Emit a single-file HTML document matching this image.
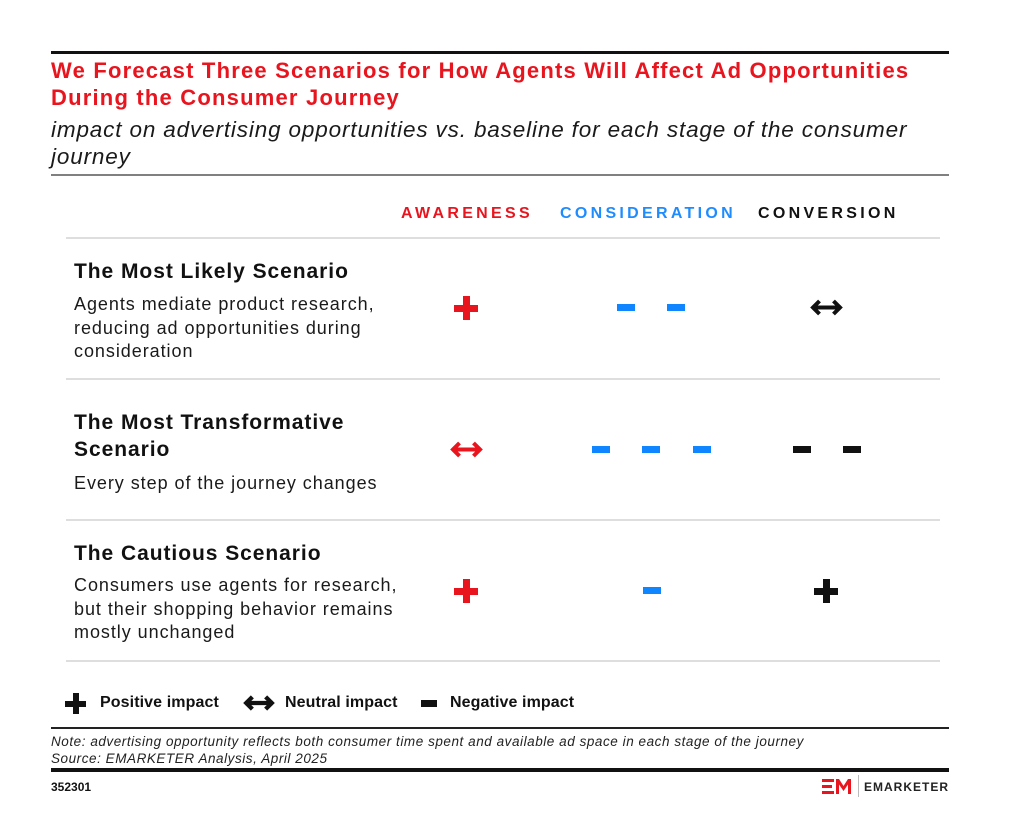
<!DOCTYPE html>
<html><head><meta charset="utf-8">
<style>
html,body{margin:0;padding:0;background:#fff;}
body{width:1023px;height:838px;position:relative;overflow:hidden;font-family:"Liberation Sans",Arial,sans-serif;color:#111;}
.a{position:absolute;white-space:nowrap;}
.title{left:51px;top:57px;font-size:22px;line-height:27px;font-weight:bold;color:#e8141e;letter-spacing:1.2px;}
.sub{left:51px;top:116px;font-size:22.5px;line-height:27px;font-style:italic;color:#1a1a1a;letter-spacing:0.85px;}
.hdr{top:206px;font-size:16px;line-height:16px;font-weight:bold;letter-spacing:3.3px;}
.rt{left:74px;font-size:21px;line-height:27px;font-weight:bold;letter-spacing:0.95px;color:#111;}
.rd{left:74px;font-size:18px;line-height:23.5px;letter-spacing:0.95px;color:#1a1a1a;}
.hl{position:absolute;left:66px;width:874px;height:2px;background:#dedede;}
.plus{position:absolute;width:24px;height:24px;}
.plus .v{position:absolute;left:8.5px;top:0;width:7px;height:24px;}
.plus .h{position:absolute;left:0;top:8.5px;width:24px;height:7px;}
.dash{position:absolute;width:18px;height:7px;}
.red{background:#e8141e;}
.blue{background:#0f86ff;}
.blk{background:#111;}
.lg{top:694px;font-size:16px;line-height:18px;font-weight:bold;color:#111;letter-spacing:0.1px;}
</style></head><body>

<div class="a" style="left:51px;top:51px;width:898px;height:3px;background:#111;"></div>
<div class="a title">We Forecast Three Scenarios for How Agents Will Affect Ad Opportunities<br>During the Consumer Journey</div>
<div class="a sub">impact on advertising opportunities vs. baseline for each stage of the consumer<br>journey</div>
<div class="a" style="left:51px;top:174px;width:898px;height:2px;background:#808080;"></div>

<div class="a hdr" style="left:401px;color:#e8141e;">AWARENESS</div>
<div class="a hdr" style="left:560px;color:#1e8cff;">CONSIDERATION</div>
<div class="a hdr" style="left:758px;color:#111;">CONVERSION</div>

<div class="hl" style="top:237px;"></div>
<div class="hl" style="top:378px;"></div>
<div class="hl" style="top:519px;"></div>
<div class="hl" style="top:660px;"></div>

<!-- Row 1 -->
<div class="a rt" style="top:258px;">The Most Likely Scenario</div>
<div class="a rd" style="top:293px;">Agents mediate product research,<br>reducing ad opportunities during<br>consideration</div>
<div class="plus" style="left:454px;top:296px;"><div class="v red"></div><div class="h red"></div></div>
<div class="dash blue" style="left:617px;top:304px;"></div>
<div class="dash blue" style="left:667px;top:304px;"></div>
<svg class="a" style="left:809px;top:298px;" width="35" height="19" viewBox="0 0 35 19"><g fill="none" stroke="#111" stroke-width="4" stroke-linejoin="miter"><line x1="3" y1="9.5" x2="32" y2="9.5"/><polyline points="10.5,3 4,9.5 10.5,16"/><polyline points="24.5,3 31,9.5 24.5,16"/></g></svg>

<!-- Row 2 -->
<div class="a rt" style="top:409px;">The Most Transformative<br>Scenario</div>
<div class="a rd" style="top:472px;">Every step of the journey changes</div>
<svg class="a" style="left:449px;top:440px;" width="35" height="19" viewBox="0 0 35 19"><g fill="none" stroke="#e8141e" stroke-width="4" stroke-linejoin="miter"><line x1="3" y1="9.5" x2="32" y2="9.5"/><polyline points="10.5,3 4,9.5 10.5,16"/><polyline points="24.5,3 31,9.5 24.5,16"/></g></svg>
<div class="dash blue" style="left:592px;top:446px;"></div>
<div class="dash blue" style="left:642px;top:446px;"></div>
<div class="dash blue" style="left:693px;top:446px;"></div>
<div class="dash blk" style="left:793px;top:446px;"></div>
<div class="dash blk" style="left:843px;top:446px;"></div>

<!-- Row 3 -->
<div class="a rt" style="top:540px;">The Cautious Scenario</div>
<div class="a rd" style="top:574px;">Consumers use agents for research,<br>but their shopping behavior remains<br>mostly unchanged</div>
<div class="plus" style="left:454px;top:579px;"><div class="v red"></div><div class="h red"></div></div>
<div class="dash blue" style="left:643px;top:587px;"></div>
<div class="plus" style="left:814px;top:579px;"><div class="v blk"></div><div class="h blk"></div></div>

<!-- Legend -->
<div style="position:absolute;left:65px;top:693px;width:21px;height:21px;">
  <div style="position:absolute;left:7.5px;top:0;width:6px;height:21px;background:#111;"></div>
  <div style="position:absolute;left:0;top:7.5px;width:21px;height:6px;background:#111;"></div>
</div>
<div class="a lg" style="left:100px;">Positive impact</div>
<svg class="a" style="left:242px;top:694px;" width="34" height="18" viewBox="0 0 35 19"><g fill="none" stroke="#111" stroke-width="4.5" stroke-linejoin="miter"><line x1="3" y1="9.5" x2="32" y2="9.5"/><polyline points="10.5,3 4,9.5 10.5,16"/><polyline points="24.5,3 31,9.5 24.5,16"/></g></svg>
<div class="a lg" style="left:285px;">Neutral impact</div>
<div class="a" style="left:421px;top:700px;width:16px;height:7px;background:#111;"></div>
<div class="a lg" style="left:450px;">Negative impact</div>

<div class="a" style="left:51px;top:727px;width:898px;height:1.5px;background:#222;"></div>
<div class="a" style="left:51px;top:734px;font-size:13.5px;line-height:16.5px;font-style:italic;color:#222;letter-spacing:0.55px;">Note: advertising opportunity reflects both consumer time spent and available ad space in each stage of the journey<br>Source: EMARKETER Analysis, April 2025</div>
<div class="a" style="left:51px;top:768px;width:898px;height:4px;background:#111;"></div>
<div class="a" style="left:51px;top:780px;font-size:12px;line-height:14px;font-weight:bold;color:#111;">352301</div>

<!-- Logo -->
<svg class="a" style="left:822px;top:779px;" width="30" height="15" viewBox="0 0 30 15">
  <g fill="#e8141e">
    <rect x="0" y="0" width="12" height="3"/>
    <rect x="0" y="6" width="10" height="3"/>
    <rect x="0" y="12" width="12" height="3"/>
    <polygon points="14,15 14,0 17,0 21.5,7 26,0 29,0 29,15 26,15 26,5.5 21.5,12 17,5.5 17,15"/>
  </g>
</svg>
<div class="a" style="left:858px;top:775px;width:1px;height:22px;background:#bbb;"></div>
<div class="a" style="left:864px;top:780px;font-size:12px;line-height:14px;font-weight:bold;letter-spacing:1px;color:#222;">EMARKETER</div>

</body></html>
